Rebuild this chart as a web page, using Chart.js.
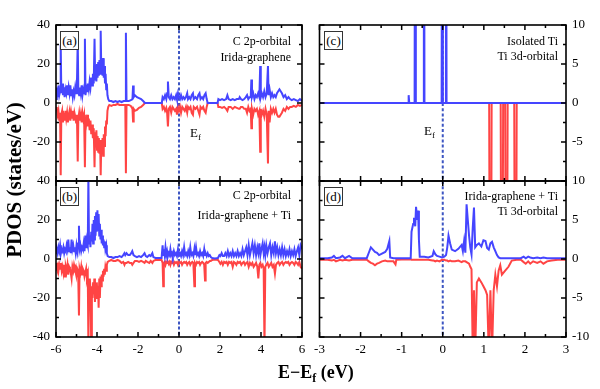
<!DOCTYPE html>
<html><head><meta charset="utf-8">
<script src="https://cdn.jsdelivr.net/npm/chart.js@4.4.0/dist/chart.umd.min.js"></script>
<style>
html,body{margin:0;padding:0;background:#fff;}
#wrap{position:relative;width:600px;height:389px;overflow:hidden;font-family:"Liberation Serif","Times New Roman",serif;color:#000;}
canvas{position:absolute;left:0;top:0;}
.t{position:absolute;font-size:12px;line-height:12px;white-space:nowrap;text-align:right;}
.box{position:absolute;box-sizing:border-box;width:19px;height:19px;border:1px solid #333;background:#fff;font-size:13px;line-height:17px;text-align:center;}
.ef{position:absolute;font-size:13px;line-height:13px;white-space:nowrap;}
.ef sub{font-size:9px;vertical-align:-3px;line-height:0;}
.ytitle{position:absolute;left:-86px;top:169px;width:200px;height:22px;line-height:22px;text-align:center;font-weight:bold;font-size:21px;transform:rotate(-90deg);white-space:nowrap;}
.xtitle{position:absolute;left:278px;top:362px;height:20px;line-height:20px;font-weight:bold;font-size:18px;white-space:nowrap;}
.xtitle sub{font-size:12px;vertical-align:-4px;line-height:0;}
</style></head>
<body>
<div id="wrap">
<canvas id="ca" width="600" height="389"></canvas>
<canvas id="cb" width="600" height="389"></canvas>
<canvas id="cc" width="600" height="389"></canvas>
<canvas id="cd" width="600" height="389"></canvas>
<div class="box" style="left:60px;top:31px">(a)</div>
<div class="box" style="left:60px;top:187px">(b)</div>
<div class="box" style="left:324px;top:31px">(c)</div>
<div class="box" style="left:324px;top:187px">(d)</div>
<div class="t" style="right:309px;top:35px">C 2p-orbital</div>
<div class="t" style="right:309px;top:51px">Irida-graphene</div>
<div class="t" style="right:309px;top:189px">C 2p-orbital</div>
<div class="t" style="right:309px;top:209px">Irida-graphene + Ti</div>
<div class="t" style="right:42px;top:35px">Isolated Ti</div>
<div class="t" style="right:42px;top:50px">Ti 3d-orbital</div>
<div class="t" style="right:42px;top:190px">Irida-graphene + Ti</div>
<div class="t" style="right:42px;top:205px">Ti 3d-orbital</div>
<div class="ef" style="left:190px;top:126px">E<sub>f</sub></div>
<div class="ef" style="left:424px;top:124px">E<sub>f</sub></div>
<div class="ytitle">PDOS (states/eV)</div>
<div class="xtitle">E−E<sub>f</sub> (eV)</div>
</div>
<script>
// ---------- data ----------
const aE  = [-6.00,-5.96,-5.92,-5.88,-5.84,-5.80,-5.77,-5.74,-5.70,-5.66,-5.62,-5.58,-5.54,-5.50,-5.46,-5.42,-5.38,-5.34,-5.30,-5.26,-5.22,-5.18,-5.14,-5.10,-5.06,-5.02,-4.98,-4.94,-4.91,-4.87,-4.83,-4.79,-4.75,-4.71,-4.67,-4.63,-4.59,-4.56,-4.52,-4.48,-4.44,-4.40,-4.36,-4.32,-4.28,-4.24,-4.20,-4.16,-4.12,-4.09,-4.06,-4.03,-4.00,-3.97,-3.94,-3.91,-3.88,-3.85,-3.82,-3.79,-3.76,-3.73,-3.70,-3.67,-3.64,-3.61,-3.58,-3.55,-3.52,-3.49,-3.45,-3.40,-3.30,-3.20,-3.10,-3.00,-2.90,-2.80,-2.70,-2.62,-2.59,-2.56,-2.45,-2.35,-2.27,-2.24,-2.21,-2.15,-2.05,-1.95,-1.85,-1.75,-1.66,-0.84,-0.80,-0.74,-0.68,-0.62,-0.58,-0.54,-0.50,-0.44,-0.38,-0.32,-0.26,-0.20,-0.14,-0.10,-0.05,0.00,0.05,0.10,0.16,0.22,0.28,0.34,0.40,0.44,0.50,0.56,0.62,0.68,0.72,0.80,0.88,0.94,1.00,1.05,1.12,1.18,1.24,1.30,1.35,1.40,1.88,1.92,2.00,2.10,2.20,2.30,2.36,2.42,2.52,2.62,2.72,2.82,2.92,2.96,3.02,3.10,3.18,3.26,3.32,3.38,3.44,3.50,3.53,3.56,3.62,3.68,3.74,3.80,3.86,3.92,3.96,3.99,4.04,4.10,4.16,4.22,4.28,4.34,4.37,4.42,4.48,4.54,4.60,4.66,4.72,4.78,4.84,4.90,4.96,5.02,5.10,5.18,5.26,5.34,5.42,5.50,5.60,5.70,5.80,5.90,6.00];
const aUp = [2,8,3,9,4,6,30,5,10,4,8,3,7,5,9,4,8,5,9,4,7,3,6,4,8,5,9,32,6,4,8,5,9,4,7,5,33,4,8,6,10,7,11,8,13,9,15,10,33,12,18,11,20,13,21,14,22,15,37,16,21,14,23,13,19,10,15,7,10,4,2,1,1,0.5,1,0.5,1,0.5,1,1,36,1,1,1.5,2,9,3,4,3,2.5,2,1,0,0,3,2,4,2,5,11,3,2,4,2,3,2,4,2,5,3,2,4,2,3,2,3,5,2,3,2,4,5,2,3,2,4,5,2,3,2,4,5,2,0,0,2,1.5,2,1.5,2,4,2,1.5,2,1.5,2,2,3,2,1.5,2,3,4,2,3,3,12,3,5,2,4,3,5,3,19,3,5,3,6,3,5,19,4,7,3,5,3,4,3,5,6,7,6,5,3,4,2,3,2,1.5,2,1.5,1,2,1];
const aDn = [-2,-3,-6,-4,-9,-5,-37,-6,-4,-10,-5,-9,-4,-8,-5,-10,-6,-4,-9,-5,-8,-4,-9,-5,-7,-10,-6,-30,-8,-5,-9,-6,-10,-5,-8,-6,-33,-7,-10,-6,-12,-8,-14,-9,-16,-11,-18,-13,-33,-15,-22,-14,-24,-17,-25,-18,-26,-19,-37,-20,-25,-18,-27,-16,-22,-12,-17,-9,-11,-4,-2,-1,-1.5,-1,-1,-0.5,-1,-1,-1,-1,-36,-1,-1,-1.5,-3,-9.5,-3,-4,-3.5,-2.5,-2,-1,0,0,-3,-2,-4,-2.5,-5,-12,-3,-2,-5,-2,-3,-4,-3,-6,-2,-4,-2,-5,-2,-3,-4,-2,-5,-2,-3,-2,-5,-6,-2,-3,-2,-4,-6,-2,-3,-2,-4,-5,-2,0,0,-2,-2,-2.5,-2,-3,-4,-2,-2,-3,-2,-2.5,-3,-3,-2,-2,-3,-3,-5,-2,-4,-3,-13,-3,-6,-3,-4,-3,-6,-4,-25,-3,-6,-4,-7,-3,-6,-31,-4,-10,-3,-5,-3,-5,-3,-6,-7,-7,-6,-5,-3,-4,-2,-3,-2,-2,-1.5,-2,-1,-1.5,-1];

const bE  = [-6.00,-5.96,-5.92,-5.88,-5.84,-5.80,-5.76,-5.72,-5.68,-5.64,-5.60,-5.56,-5.52,-5.48,-5.44,-5.40,-5.36,-5.32,-5.28,-5.24,-5.20,-5.16,-5.12,-5.08,-5.04,-5.00,-4.96,-4.92,-4.88,-4.85,-4.81,-4.77,-4.73,-4.69,-4.65,-4.61,-4.57,-4.53,-4.49,-4.45,-4.42,-4.39,-4.35,-4.32,-4.28,-4.25,-4.22,-4.19,-4.16,-4.13,-4.10,-4.07,-4.04,-4.01,-3.98,-3.95,-3.92,-3.89,-3.86,-3.83,-3.80,-3.77,-3.74,-3.71,-3.68,-3.65,-3.62,-3.59,-3.55,-3.52,-3.48,-3.40,-3.30,-3.20,-3.10,-3.00,-2.90,-2.80,-2.72,-2.66,-2.62,-2.56,-2.48,-2.40,-2.33,-2.28,-2.22,-2.15,-2.05,-1.95,-1.85,-1.75,-1.68,-1.62,-1.55,-1.45,-1.38,-1.30,-1.25,-1.15,-1.00,-0.85,-0.80,-0.77,-0.74,-0.70,-0.66,-0.62,-0.58,-0.54,-0.50,-0.46,-0.42,-0.38,-0.34,-0.30,-0.25,-0.20,-0.15,-0.10,-0.05,0.00,0.05,0.10,0.15,0.20,0.25,0.30,0.35,0.40,0.45,0.50,0.55,0.60,0.65,0.70,0.75,0.78,0.83,0.88,0.93,0.98,1.03,1.08,1.13,1.18,1.23,1.27,1.30,1.35,1.40,1.45,1.50,1.55,1.62,1.75,1.90,1.97,2.02,2.08,2.14,2.20,2.26,2.32,2.38,2.44,2.50,2.56,2.62,2.68,2.74,2.80,2.86,2.92,2.98,3.04,3.10,3.16,3.22,3.28,3.34,3.40,3.46,3.52,3.58,3.64,3.70,3.76,3.82,3.87,3.92,3.97,4.02,4.08,4.13,4.17,4.21,4.26,4.32,4.38,4.44,4.50,4.56,4.62,4.68,4.73,4.79,4.85,4.91,4.97,5.03,5.09,5.15,5.21,5.27,5.33,5.39,5.45,5.51,5.57,5.63,5.69,5.75,5.81,5.87,5.93,6.00];
const bUp = [3,5,3,6,4,7,3,5,4,6,3,5,4,7,5,10,4,6,3,10,5,7,4,6,3,7,4,8,17,5,7,4,6,5,8,4,12,6,9,7,42,8,12,6,14,9,18,8,20,10,22,12,24,14,25,15,23,12,18,10,15,8,12,7,10,6,9,5,7,3,1.5,1,1,0.5,1,1,1.5,1,2,3,2,3,2,2,3,4,2,1.5,1,1.5,1,2,3,1.5,1,2,1.5,3,1,0.5,0.5,0.5,7,2,5,2,6,2,4,1.5,3,2,5,2,3,1.5,4,2,3,1.5,5,2,3,1.5,4,2,6,2,3,1.5,4,2,6,2,3,1.5,5,2,6,2,3,1.5,4,2,3,1.5,5,2,3,1.5,3,1.5,2,1,0.5,0.3,0.5,2,1.5,3,1.5,1.5,3,1.5,4,1.5,3,1.5,4,1.5,3,1.5,4,1.5,3,1.5,5,2,4,6,2,7,2,5,8,3,7,2,6,3,8,2,5,8,3,6,2,7,3,6,8,2,6,3,9,3,6,2,5,2,6,2,5,1.5,4,2,5,1.5,4,2,5,1.5,4,6,2,7,5];
const bDn = [-2,-4,-3,-6,-3,-5,-2,-6,-4,-7,-3,-9,-4,-6,-3,-8,-4,-5,-7,-10,-4,-6,-3,-5,-4,-8,-5,-6,-29,-5,-7,-4,-8,-5,-6,-9,-7,-5,-10,-8,-45,-12,-10,-15,-45,-14,-20,-12,-18,-10,-22,-15,-20,-12,-18,-14,-25,-10,-20,-9,-14,-8,-11,-6,-9,-5,-8,-4,-6,-3,-1.5,-1,-0.5,-1,-1,-0.5,-1,-2,-1.5,-3,-2,-2,-1.5,-2,-2,-3,-2,-1,-1,-1.5,-1,-1.5,-2,-1,-1.5,-2,-1,-2,-1,-0.5,-0.5,-0.5,-2,-14,-2,-1.5,-3,-1.5,-2,-1.5,-2.5,-1.5,-3,-1.5,-2,-1.5,-3,-1.5,-2,-1.5,-3,-1.5,-2,-1.5,-3,-2,-1.5,-2,-1.5,-3,-2,-1.5,-3,-2,-1.5,-2,-14,-2,-3,-1.5,-2,-1.5,-3,-2,-1.5,-2,-3,-11,-2,-1.5,-2,-1.5,-1,-1,-0.5,-0.3,-0.5,-1.5,-2.5,-1.5,-3,-1.5,-2,-1.5,-3,-1.5,-2,-1.5,-4,-1.5,-2,-3,-1.5,-2,-1.5,-3,-2,-1.5,-3,-2,-1.5,-4,-2,-3,-2,-4,-3,-2,-4,-10,-3,-2,-4,-3,-5,-45,-4,-3,-2,-4,-3,-2,-4,-3,-7.5,-3,-2,-1.5,-3,-2,-1.5,-3,-2,-1.5,-2,-1.5,-3,-2,-1.5,-2,-3,-1.5,-2,-3,-1.5,-4,-5];

const cE  = [-3,-0.845,-0.83,-0.815,-0.685,-0.67,-0.655,-0.475,-0.46,-0.445,-0.027,-0.012,0.003,0.063,0.078,0.093,1.13,1.16,1.19,1.41,1.44,1.47,1.52,1.55,1.58,1.74,1.77,1.80,3];
const cUp = [0,0,1,0,0,60,0,0,60,0,0,60,0,0,60,0,0,0,0,0,0,0,0,0,0,0,0,0,0];
const cDn = [0,0,0,0,0,0,0,0,0,0,0,0,0,0,0,0,0,-60,0,0,-60,0,0,-60,0,0,-60,0,0];

const dE  = [-3.00,-2.80,-2.70,-2.65,-2.60,-2.50,-2.44,-2.38,-2.28,-2.20,-2.00,-1.85,-1.80,-1.75,-1.70,-1.65,-1.60,-1.55,-1.48,-1.40,-1.35,-1.30,-1.28,-1.20,-1.15,-1.13,-1.00,-0.90,-0.78,-0.76,-0.72,-0.70,-0.67,-0.65,-0.62,-0.60,-0.58,-0.56,-0.45,-0.35,-0.25,-0.22,-0.18,-0.14,-0.08,-0.02,0.04,0.08,0.11,0.14,0.18,0.22,0.30,0.38,0.46,0.49,0.52,0.55,0.58,0.61,0.64,0.67,0.70,0.73,0.76,0.79,0.83,0.88,0.94,0.99,1.04,1.08,1.12,1.16,1.20,1.24,1.28,1.32,1.36,1.40,1.44,1.52,1.60,1.68,1.80,1.90,1.97,2.02,2.08,2.13,2.20,2.30,2.38,2.45,2.54,2.65,2.80,3.00];
const dUp = [0.1,0.1,0.2,0.4,0.1,0.2,0.4,0.1,0.4,0.1,0.1,0.1,0.8,1.5,1.2,0.9,0.8,0.5,0.7,0.9,1.3,2.3,0.2,0.1,0.1,0.1,0.1,0.1,0.1,3.5,4.5,5.3,4.2,6.7,5.0,6.2,2.5,0.3,0.3,0.2,0.4,1.0,0.6,0.4,0.3,0.2,0.3,0.5,1.5,3.0,2.0,1.2,1.0,1.3,1.8,1.0,2.3,0.8,7.0,5.0,3.0,1.5,0.6,4.0,6.6,1.5,1.8,2.0,1.6,2.4,2.3,1.4,1.2,2.0,2.2,1.5,1.0,0.5,0.2,0.1,0.1,0.1,0.1,0.1,0.1,0.1,0.3,0.1,0.3,0.2,0.1,0.2,0.1,0.2,0.1,0.1,0.1,0.1];
const dDn = [-0.1,-0.1,-0.2,-0.1,-0.3,-0.1,-0.2,-0.1,-0.2,-0.1,-0.1,-0.1,-0.3,-0.5,-0.6,-0.8,-0.6,-0.5,-0.3,-0.2,-0.3,-0.3,-0.3,-0.3,-0.7,-0.1,-0.05,-0.05,-0.05,-0.1,-0.1,-0.1,-0.1,-0.1,-0.1,-0.1,-0.1,-0.1,-0.1,-0.1,-0.2,-0.2,-0.3,-0.2,-0.3,-0.1,-0.1,-0.2,-0.2,-0.3,-0.2,-0.3,-0.3,-0.2,-0.4,-0.3,-0.3,-0.3,-0.4,-0.5,-0.6,-1.0,-1.3,-12,-4,-12,-3,-2.5,-3.0,-3.5,-4.0,-4.6,-12,-4,-12,-4,-2.0,-3.5,-1.5,-0.8,-2.0,-1.5,-1.0,-0.2,-0.1,-0.1,-0.4,-0.6,-0.3,-0.6,-0.3,-0.5,-0.3,-0.6,-0.3,-0.2,-0.1,-0.1];

// tick settings
const leftYTicks = {min:-40, max:40, major:20, minor:10};
const rightYTicks = {min:-10, max:10, major:5, minor:2.5};
const leftXTicks = {min:-6, max:6, major:2, minor:1};
const rightXTicks = {min:-3, max:3, major:1, minor:0.5};

const BLUE = '#4545ff', RED = '#ff4444', EFC = '#3d55c2';
const AXW = 34, AXH = 26;

// ---------- frame / inward ticks / Ef line ----------
const framePlugin = {
  id: 'frame',
  beforeDatasetsDraw(chart, args, o) {
    const {ctx, chartArea: a, scales: {x}} = chart;
    const px = x.getPixelForValue(0);
    ctx.save();
    ctx.strokeStyle = EFC; ctx.lineWidth = 2; ctx.setLineDash([3, 2.2]);
    ctx.beginPath(); ctx.moveTo(px, a.top); ctx.lineTo(px, a.bottom); ctx.stroke();
    ctx.restore();
  },
  afterDatasetsDraw(chart, args, o) {
    const {ctx, chartArea: a, scales: {x, y}} = chart;
    ctx.save();
    ctx.strokeStyle = '#000'; ctx.lineWidth = 1.5;
    ctx.beginPath();
    const xt = o.xt, yt = o.yt;
    for (let v = xt.min; v <= xt.max + 1e-9; v += xt.minor) {
      const isMajor = Math.abs(v / xt.major - Math.round(v / xt.major)) < 1e-6;
      const L = isMajor ? 5 : 3;
      const p = x.getPixelForValue(v);
      ctx.moveTo(p, a.bottom); ctx.lineTo(p, a.bottom - L);
      ctx.moveTo(p, a.top); ctx.lineTo(p, a.top + L);
    }
    for (let v = yt.min; v <= yt.max + 1e-9; v += yt.minor) {
      const isMajor = Math.abs(v / yt.major - Math.round(v / yt.major)) < 1e-6;
      const L = isMajor ? 5 : 3;
      const p = y.getPixelForValue(v);
      ctx.moveTo(a.left, p); ctx.lineTo(a.left + L, p);
      ctx.moveTo(a.right, p); ctx.lineTo(a.right - L, p);
    }
    ctx.stroke();
    ctx.lineWidth = 1.6;
    ctx.strokeRect(a.left, a.top, a.right - a.left, a.bottom - a.top);
    ctx.restore();
  }
};

function makePanel(id, E, up, dn, c) {
  const font = {family: '"Liberation Serif","Times New Roman",serif', size: 13};
  const xh = c.xlab ? AXH : 0;
  return new Chart(document.getElementById(id), {
    type: 'line',
    data: {datasets: [
      {data: E.map((e, i) => ({x: e, y: up[i]})), borderColor: BLUE, borderWidth: 2, pointRadius: 0, tension: 0, borderJoinStyle: 'miter'},
      {data: E.map((e, i) => ({x: e, y: dn[i]})), borderColor: RED, borderWidth: 2, pointRadius: 0, tension: 0, borderJoinStyle: 'miter'}
    ]},
    options: {
      responsive: false, animation: false, devicePixelRatio: 1, events: [],
      layout: {padding: {
        left: c.ypos === 'left' ? c.L - AXW : c.L,
        right: c.ypos === 'right' ? 600 - c.R - AXW : 600 - c.R,
        top: c.T, bottom: 389 - c.B - xh}},
      plugins: {legend: {display: false}, tooltip: {enabled: false}, frame: {xt: c.xt, yt: c.yt}},
      scales: {
        x: {type: 'linear', position: 'bottom', min: c.xt.min, max: c.xt.max,
          grid: {display: false, drawTicks: false}, border: {display: false},
          ticks: {display: c.xlab, stepSize: c.xt.major, padding: 5, color: '#000', font, maxRotation: 0, autoSkip: false},
          afterFit: s => { s.height = xh; }},
        y: {type: 'linear', position: c.ypos, min: c.yt.min, max: c.yt.max,
          grid: {display: false, drawTicks: false}, border: {display: false},
          ticks: {stepSize: c.yt.major, padding: 6, color: '#000', font, autoSkip: false,
            callback: v => (c.hideMin && v === c.yt.min) ? '' : String(v)},
          afterFit: s => { s.width = AXW; }}
      }
    },
    plugins: [framePlugin]
  });
}

makePanel('ca', aE, aUp, aDn, {L: 56, R: 302, T: 25, B: 181, xt: leftXTicks, yt: leftYTicks, xlab: false, ypos: 'left', hideMin: true});
makePanel('cb', bE, bUp, bDn, {L: 56, R: 302, T: 181, B: 337, xt: leftXTicks, yt: leftYTicks, xlab: true, ypos: 'left', hideMin: false});
makePanel('cc', cE, cUp, cDn, {L: 319.5, R: 566, T: 25, B: 181, xt: rightXTicks, yt: rightYTicks, xlab: false, ypos: 'right', hideMin: true});
makePanel('cd', dE, dUp, dDn, {L: 319.5, R: 566, T: 181, B: 337, xt: rightXTicks, yt: rightYTicks, xlab: true, ypos: 'right', hideMin: false});
</script>
</body></html>
